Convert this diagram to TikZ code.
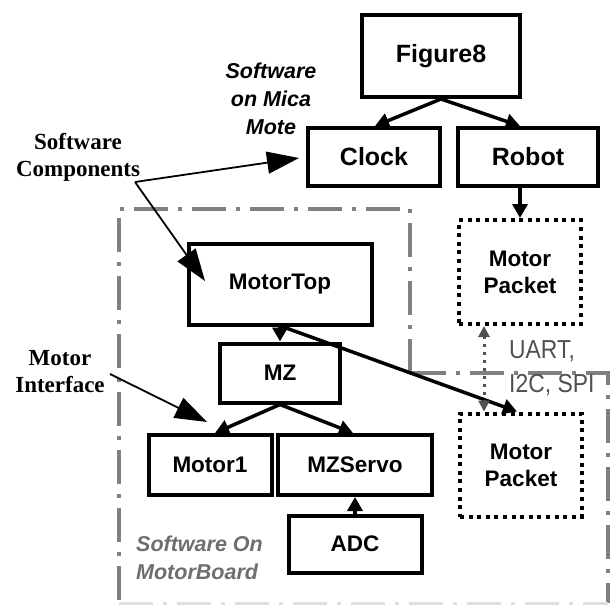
\documentclass[tikz,border=0pt]{standalone}
\usepackage{fontspec}
\setmainfont{Liberation Sans}
\newfontfamily\labelserif{Liberation Serif}
\newfontfamily\narrowsans[FakeStretch=0.88]{Liberation Sans}
\usetikzlibrary{arrows.meta,calc}
\definecolor{regiongray}{RGB}{128,128,128}
\definecolor{busgray}{RGB}{80,80,80}
\definecolor{boardgray}{RGB}{110,110,110}
\begin{document}
\begin{tikzpicture}[x=1pt,y=-1pt,
  comp/.style={draw,line width=4pt,inner sep=0pt,align=center,
    font=\fontsize{22.5}{27}\selectfont\bfseries},
  topcomp/.style={comp,font=\fontsize{25}{30}\selectfont\bfseries},
  packet/.style={comp,dash pattern=on 4pt off 4.6pt},
  link/.style={line width=3.5pt,-{Triangle[length=14pt,width=15pt]}},
  note/.style={line width=1.8pt,-{Triangle[length=32pt,width=22pt]}},
  region/.style={draw=regiongray,line width=3.5pt,
    dash pattern=on 34pt off 10pt on 4pt off 10pt},
  notetext/.style={font=\labelserif\fontsize{23}{27}\selectfont\bfseries,align=center,inner sep=0pt},
  areatext/.style={font=\fontsize{21.5}{28}\selectfont\bfseries\itshape,inner sep=0pt}]
\useasboundingbox (0,0) rectangle (611,605);

% board outline (dash-dot)
\draw[region] (410,373) -- (410,209) -- (119,209) -- (119,603);
\draw[region] (412,373) -- (608,373) -- (608,603);
\draw[draw=regiongray!25,line width=3pt,dash pattern=on 34pt off 10pt on 4pt off 10pt] (119,603) -- (608,603);

% components
\node[topcomp,minimum width=158pt,minimum height=82pt] (fig8) at (441,56) {Figure8};
\node[topcomp,minimum width=132pt,minimum height=58pt] (clock) at (374,157) {Clock};
\node[topcomp,minimum width=140pt,minimum height=58pt] (robot) at (528,157) {Robot};
\node[packet,minimum width=122pt,minimum height=104pt] (pktup) at (520,272) {Motor\\Packet};
\node[comp,minimum width=183pt,minimum height=81pt] (mtop) at (280,284) {MotorTop};
\node[comp,minimum width=120pt,minimum height=59pt] (mz) at (280,373) {MZ};
\node[comp,minimum width=123pt,minimum height=60pt] (motor1) at (210,465) {Motor1};
\node[comp,minimum width=154pt,minimum height=60pt] (mzservo) at (355,465) {MZServo};
\node[comp,minimum width=133pt,minimum height=57pt] (adc) at (355,544) {ADC};
\node[packet,minimum width=122pt,minimum height=103pt] (pktlo) at (521,465) {Motor\\Packet};

% wiring
\draw[link] (fig8.south) -- ($(clock.north)+(1,0)$);
\draw[link] (fig8.south) -- ($(robot.north)+(-8,0)$);
\draw[link] (pktup.north |- robot.south) -- (pktup.north);
\draw[link] (mtop.south) -- (mz.north);
\draw[link] ($(mtop.south)+(2,0)$) -- ($(pktlo.north)+(-4,0)$);
\draw[link] (mz.south) -- ($(motor1.north)+(5,0)$);
\draw[link] (mz.south) -- ($(mzservo.north)+(-2,0)$);
\draw[link] (adc.north) -- (mzservo.south);

% serial bus between the two packets
\coordinate (busx) at (484,0);
\draw[busgray,line width=3pt,dash pattern=on 3pt off 5pt,
  {Triangle[length=11pt,width=11pt]}-{Triangle[length=11pt,width=11pt]}]
  (busx |- pktup.south) -- (busx |- pktlo.north);
\node[font=\narrowsans\fontsize{26}{34}\selectfont,text=busgray,align=left,anchor=north west,inner sep=0pt] (bus) at (509,340) {UART,\\I2C, SPI};

% area labels
\node[areatext,align=center] (mica) at (271,99) {Software\\on Mica\\Mote};
\node[areatext,text=boardgray,align=left,anchor=west] (board) at (136,558) {Software On\\MotorBoard};

% annotations
\node[notetext] (swc) at (78,157) {Software\\Components};
\node[notetext] (mif) at (60,372) {Motor\\Interface};
\coordinate (swcfoot) at (135,182);
\coordinate (miffoot) at (110,374);
\coordinate (mtopaim) at (205,281);
\draw[note] (swcfoot) -- ($(clock.west)+(-7,1)$);
\draw[note] (swcfoot) -- (mtopaim);
\draw[note] (miffoot) -- (207,422);
\end{tikzpicture}
\end{document}
